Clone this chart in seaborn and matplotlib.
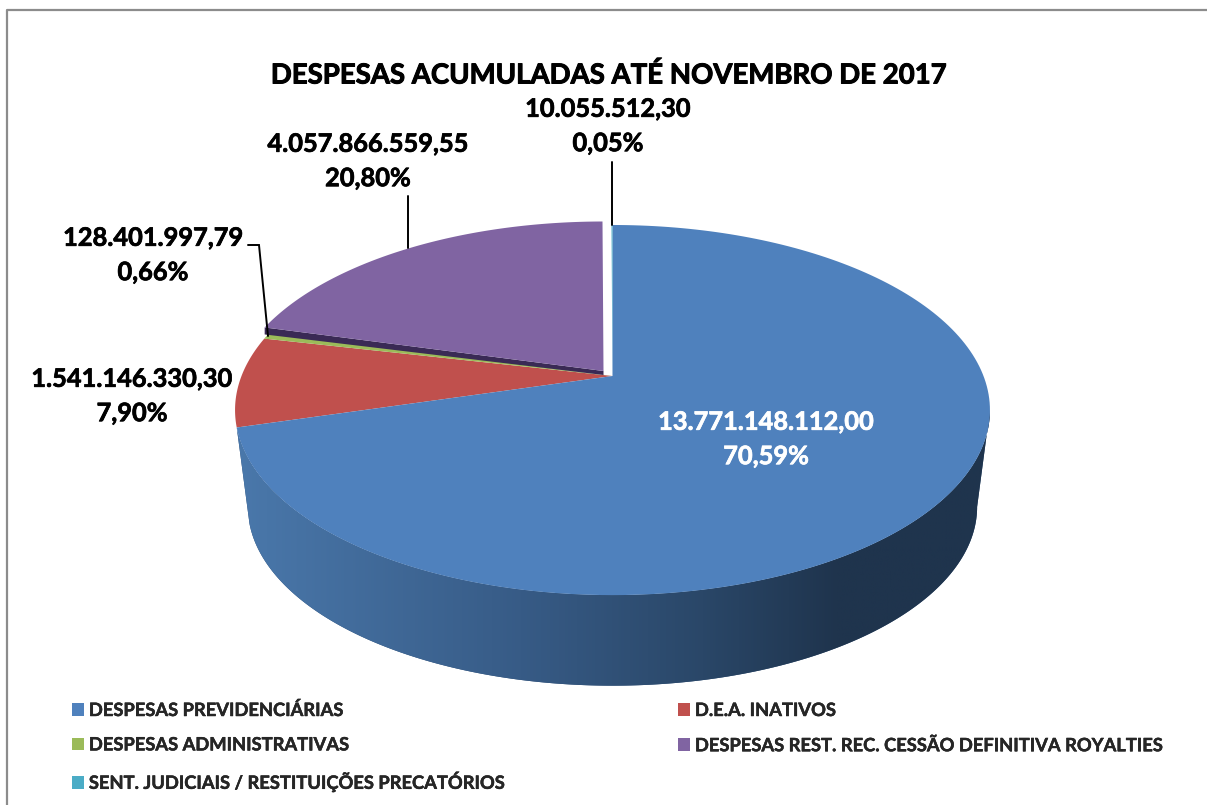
import numpy as np
import matplotlib
matplotlib.use('Agg')
import matplotlib.pyplot as plt
import matplotlib.patches as mpatches
import matplotlib.patheffects as pe
from matplotlib.colors import LinearSegmentedColormap
import seaborn as sns

title = 'DESPESAS ACUMULADAS ATÉ NOVEMBRO DE 2017'
categories = ['DESPESAS PREVIDENCIÁRIAS', 'D.E.A. INATIVOS', 'DESPESAS ADMINISTRATIVAS',
              'DESPESAS REST. REC. CESSÃO DEFINITIVA ROYALTIES', 'SENT. JUDICIAIS / RESTITUIÇÕES PRECATÓRIOS']
values = [13771148112.00, 1541146330.30, 128401997.79, 4057866559.55, 10055512.30]
value_labels = ['13.771.148.112,00', '1.541.146.330,30', '128.401.997,79', '4.057.866.559,55', '10.055.512,30']
pct_labels = ['70,59%', '7,90%', '0,66%', '20,80%', '0,05%']
colors = ['#4f81bd', '#c0504d', '#9bbb59', '#8064a2', '#4bacc6']

sns.set_theme(style='white')
plt.rcParams['font.family'] = ['Lato', 'DejaVu Sans']
palette = sns.color_palette(colors)

# pixel-like axes, so the layout can be compared with the reference directly
fig = plt.figure(figsize=(12.07, 8.05), dpi=100, facecolor='white')
ax = fig.add_axes([0, 0, 1, 1])

# perspective of the pie top, angles are clockwise from 12 o'clock
CX, CY = 612.5, 376
BX, AY, K = 371, 178.8, 0.184
BOTTOM_SCALE, BOTTOM_DY = 0.966, 98


def project(deg, scale=1.0, dx=0.0, dy=0.0):
    t = np.radians(deg)
    u, v = np.sin(t), np.cos(t)
    w = 1 + K * v
    return CX + dx + scale * BX * u / w, CY + dy - scale * AY * v / w


def slice_poly(start, end, scale=1.0, dx=0.0, dy=0.0):
    t = np.linspace(start, end, 200)
    x, y = project(t, scale, dx, dy)
    return np.r_[CX + dx, x], np.r_[CY + dy, y]


def heavier(color, width=0.5):
    # Lato bold is a bit lighter than the reference font
    return [pe.withStroke(linewidth=width, foreground=color)]


shares = np.array(values) / np.sum(values) * 360
ends = np.cumsum(shares)
starts = ends - shares

# side wall of the blue slice
wall_t = np.linspace(np.degrees(np.arccos(-K)), ends[0], 300)
top_x, top_y = project(wall_t)
bot_x, bot_y = project(wall_t, scale=BOTTOM_SCALE, dy=BOTTOM_DY)
wall = ax.fill(np.r_[top_x, bot_x[::-1]], np.r_[top_y, bot_y[::-1]], color='#2f4f75', lw=0, zorder=1)[0]
wall_cmap = LinearSegmentedColormap.from_list('wall', [(0, '#4a78ab'), (0.38, '#375b86'), (0.62, '#2a4768'),
                                                       (0.8, '#1f344d'), (1, '#1f344d')])
im = ax.imshow(np.linspace(0, 1, 512)[None, :], extent=[235, 990, 700, 400], cmap=wall_cmap, aspect='auto', zorder=1.5)
im.set_clip_path(wall)

# top faces, purple is pulled out of the pie
PURPLE_SCALE, PURPLE_DX, PURPLE_DY = 0.99, -9, -5
for i in [1, 2, 0, 4]:
    x, y = slice_poly(starts[i], ends[i])
    ax.fill(x, y, color=palette[i], lw=0, zorder=2)

px, py = project(starts[3], PURPLE_SCALE, PURPLE_DX, PURPLE_DY)
ax.fill([CX + PURPLE_DX, px, px, CX + PURPLE_DX],
        [CY + PURPLE_DY, py, py + 7, CY + PURPLE_DY + 4], color='#3a2a55', lw=0, zorder=3)
x, y = slice_poly(starts[3], ends[3], PURPLE_SCALE, PURPLE_DX, PURPLE_DY)
ax.fill(x, y, color=palette[3], lw=0, zorder=4)

# leader lines
for lx, ly in [([612, 612], [162, 225]), ([408, 408], [196, 248]), ([248, 259, 268], [245, 245, 336])]:
    ax.plot(lx, ly, color='black', lw=1.4, zorder=5, solid_joinstyle='miter')

# data labels
label_pos = [(766, 439.5), (132, 396.5), (153, 255.5), (368, 161.5), (608, 126.5)]
for i, (lx, ly) in enumerate(label_pos):
    text_color = 'white' if i == 0 else 'black'
    ax.text(lx, ly, value_labels[i] + '\n' + pct_labels[i], ha='center', va='center', fontsize=18.3,
            fontweight='bold', linespacing=1.6, color=text_color, zorder=6, path_effects=heavier(text_color))

ax.text(608, 75, title, ha='center', va='center', fontsize=19.85, fontweight='bold', color='black',
        path_effects=heavier('black', 0.7))

# chart frame, cut off at the right and bottom of the picture
ax.plot([7, 7, 1210], [810, 10, 10], color='#8c8c8c', lw=1.6, zorder=0)

order = [0, 2, 4, 1, 3]
handles = [mpatches.Patch(color=palette[i], lw=0) for i in order]
leg = ax.legend(handles, [categories[i] for i in order], ncol=2, loc='upper left',
                bbox_to_anchor=(72 / 1207, 1 - 701 / 805), frameon=False,
                prop={'family': ['Lato', 'DejaVu Sans'], 'weight': 'bold', 'size': 13.2},
                handlelength=0.65, handleheight=0.71, handletextpad=0.27, labelspacing=0.95,
                columnspacing=9.33, borderpad=0, borderaxespad=0)
for t in leg.get_texts():
    t.set_path_effects(heavier('black', 0.3))

ax.set_xlim(0, 1207)
ax.set_ylim(805, 0)
ax.axis('off')
fig.savefig('out.png', dpi=100)
